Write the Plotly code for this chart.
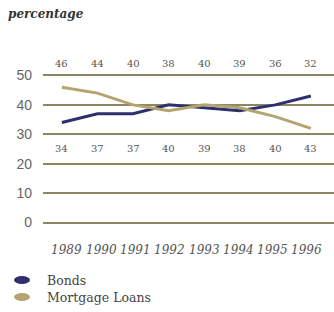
import plotly.graph_objects as go

years = [1989, 1990, 1991, 1992, 1993, 1994, 1995, 1996]
bonds = [34, 37, 37, 40, 39, 38, 40, 43]
mortgage = [46, 44, 40, 38, 40, 39, 36, 32]
y_ticks = [0, 10, 20, 30, 40, 50]

BOND_C = "#2e2f6e"
MORT_C = "#b3a56f"
TXT = "#555555"
SERIF = "DejaVu Serif"

W, H = 334, 312
L, R, T, B = 43, 0, 74, 88
PW, PH = W - L - R, H - T - B


def px(x):
    return (x - L) / PW


def py(y):
    return (T + PH - y) / PH


fig = go.Figure()
fig.add_trace(go.Scatter(x=years, y=bonds, mode="lines", line=dict(color=BOND_C, width=3),
                         name="Bonds", showlegend=False))
fig.add_trace(go.Scatter(x=years, y=mortgage, mode="lines", line=dict(color=MORT_C, width=3),
                         name="Mortgage Loans", showlegend=False))

for x, v in zip(years, mortgage):
    fig.add_annotation(x=x, xref="x", yref="paper", y=py(63), yanchor="middle",
                       text=str(v), showarrow=False,
                       font=dict(family=SERIF, size=10, color=TXT))
for x, v in zip(years, bonds):
    fig.add_annotation(x=x, xref="x", yref="paper", y=py(148), yanchor="middle",
                       text=str(v), showarrow=False,
                       font=dict(family=SERIF, size=10, color=TXT))
n = len(years)
for i, yr in enumerate(years):
    fig.add_annotation(x=yr, xref="x", yref="paper", y=py(250), yanchor="middle",
                       xshift=5 - 9 * i / (n - 1),
                       text="<i>%d</i>" % yr, showarrow=False,
                       font=dict(family=SERIF, size=12, color=TXT))

fig.add_annotation(xref="paper", yref="paper", x=px(6), y=py(14),
                   xanchor="left", yanchor="middle", text="<b><i>percentage</i></b>",
                   showarrow=False, font=dict(family=SERIF, size=12, color="#333333"))

# legend
for i, (name, col) in enumerate([("Bonds", BOND_C), ("Mortgage Loans", MORT_C)]):
    yc = 280 + 17 * i
    fig.add_shape(type="circle", xref="paper", yref="paper",
                  x0=px(14), x1=px(30), y0=py(yc + 4), y1=py(yc - 4),
                  fillcolor=col, line=dict(width=0))
    fig.add_annotation(xref="paper", yref="paper", x=px(45), y=py(yc),
                       xanchor="left", yanchor="middle", text=name, showarrow=False,
                       font=dict(family=SERIF, size=12.5, color="#444444"))

fig.update_layout(
    width=W, height=H,
    margin=dict(l=L, r=R, t=T, b=B),
    paper_bgcolor="white", plot_bgcolor="white",
    xaxis=dict(range=[1988.47, 1996.65], showticklabels=False,
               showgrid=False, zeroline=False, showline=False, ticks=""),
    yaxis=dict(range=[-0.5, 50.5], tickvals=y_ticks, showgrid=True, gridcolor="#8a8762",
               gridwidth=1.5, zeroline=False, showline=False, ticks="",
               ticklabelstandoff=10,
               tickfont=dict(family="Liberation Sans, sans-serif", size=14, color="#666666")),
)

fig.write_html("out.html", config={"displayModeBar": False},
               post_script="document.body.style.margin='0';document.body.style.padding='0';")
